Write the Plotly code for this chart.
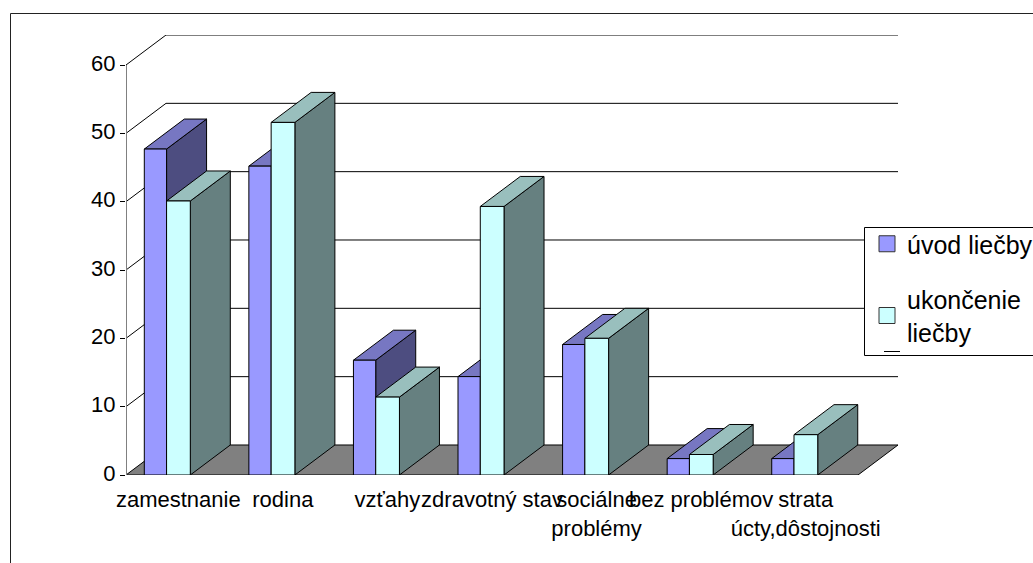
import plotly.graph_objects as go

categories = ["zamestnanie", "rodina", "vzťahy", "zdravotný stav",
              "sociálne<br>problémy", "bez problémov", "strata<br>úcty,dôstojnosti"]
uvod_liecby = [47.7, 45.2, 16.8, 14.4, 19.1, 2.4, 2.4]
ukoncenie_liecby = [40.1, 51.6, 11.4, 39.3, 20.0, 3.0, 5.9]
y_ticks = [0, 10, 20, 30, 40, 50, 60]

W, H = 1033, 563
L, R, T, B = 126, 898, 35, 475
DX = 40 / 104.57      # depth of the fake 3-D box, in x units
DY = 30 / 6.83        # depth of the fake 3-D box, in y units
X0, X1 = -0.5, 6.5
FONT = "Liberation Sans"


def px(x):
    return (x - L) / (R - L)


def py(y):
    return (B - y) / (B - T)


def poly(points, color, name=None):
    xs, ys = [], []
    for shape in points:
        xs += [p[0] for p in shape] + [shape[0][0], None]
        ys += [p[1] for p in shape] + [shape[0][1], None]
    return go.Scatter(x=xs, y=ys, mode="lines", fill="toself", fillcolor=color,
                      line=dict(color="black", width=1), showlegend=False,
                      hoverinfo="skip", name=name)


def series_faces(values, offset, width, front, top, side):
    fronts, tops, sides = [], [], []
    for i, v in enumerate(values):
        a, b = i + offset, i + offset + width
        fronts.append([(a, 0), (b, 0), (b, v), (a, v)])
        tops.append([(a, v), (b, v), (b + DX, v + DY), (a + DX, v + DY)])
        sides.append([(b, 0), (b + DX, DY), (b + DX, v + DY), (b, v)])
    return [poly(sides, side), poly(tops, top), poly(fronts, front)]


fig = go.Figure()

# back wall gridlines and the side-wall diagonals
wall_x, wall_y = [], []
for v in y_ticks[1:]:
    wall_x += [X0, X0 + DX, X1 + DX, None]
    wall_y += [v, v + DY, v + DY, None]
fig.add_trace(go.Scatter(x=wall_x, y=wall_y, mode="lines", showlegend=False, hoverinfo="skip",
                         line=dict(color="black", width=1)))
# floor
fig.add_trace(poly([[(X0, 0), (X1, 0), (X1 + DX, DY), (X0 + DX, DY)]], "#808080"))
# value axis line
fig.add_trace(go.Scatter(x=[X0, X0], y=[0, 60], mode="lines", showlegend=False, hoverinfo="skip",
                         line=dict(color="#808080", width=2)))

for t in series_faces(uvod_liecby, -0.325, 0.213, "#9999FF", "#7777C2", "#4D4D80"):
    fig.add_trace(t)
for t in series_faces(ukoncenie_liecby, -0.112, 0.227, "#CCFFFF", "#99BFBD", "#668080"):
    fig.add_trace(t)

# legend entries
for name, color, grp in [("úvod liečby", "#9999FF", "a"), ("ukončenie<br>liečby", "#CCFFFF", "b")]:
    fig.add_trace(go.Scatter(x=[None], y=[None], mode="markers", name=name, legendgroup=grp,
                             marker=dict(symbol="square", size=16, color=color,
                                         line=dict(color="#333333", width=1))))

shapes = [
    dict(type="rect", xref="paper", yref="paper", x0=px(10.5), x1=px(W + 5), y0=py(13.5), y1=py(H + 5),
         line=dict(color="#222222", width=1), layer="below"),
    dict(type="rect", xref="paper", yref="paper", x0=px(864.5), x1=px(W + 5), y0=py(227.5), y1=py(355.5),
         line=dict(color="black", width=1), fillcolor="white", layer="above"),
    dict(type="line", xref="paper", yref="paper", x0=px(884), x1=px(900), y0=py(351.5), y1=py(351.5),
         line=dict(color="black", width=1), layer="above"),
]

fig.update_layout(
    width=W, height=H, autosize=False,
    margin=dict(l=L, r=W - R, t=T, b=H - B, pad=0, autoexpand=False),
    paper_bgcolor="white", plot_bgcolor="white",
    font=dict(family=FONT, size=22, color="black"),
    shapes=shapes,
    showlegend=True,
    legend=dict(x=px(867), y=py(221), xanchor="left", yanchor="top", traceorder="grouped",
                tracegroupgap=20, bgcolor="rgba(0,0,0,0)", borderwidth=0,
                itemclick=False, itemdoubleclick=False,
                font=dict(family=FONT, size=25, color="black")),
    xaxis=dict(range=[X0, X1 + DX], tickmode="array", tickvals=list(range(len(categories))),
               ticktext=categories, tickangle=0, showgrid=False, zeroline=False, showline=False,
               ticks="", ticklabelstandoff=9, tickfont=dict(family=FONT, size=22)),
    yaxis=dict(range=[0, 60 + DY], tickmode="array", tickvals=y_ticks, showgrid=False,
               zeroline=False, showline=False, ticks="outside", ticklen=5, tickcolor="black",
               tickwidth=1, ticklabelshift=-2, tickfont=dict(family=FONT, size=22)),
)

fig.write_html("out.html", config=dict(displayModeBar=False),
               post_script="document.body.style.margin='0';document.body.style.overflow='hidden';")
